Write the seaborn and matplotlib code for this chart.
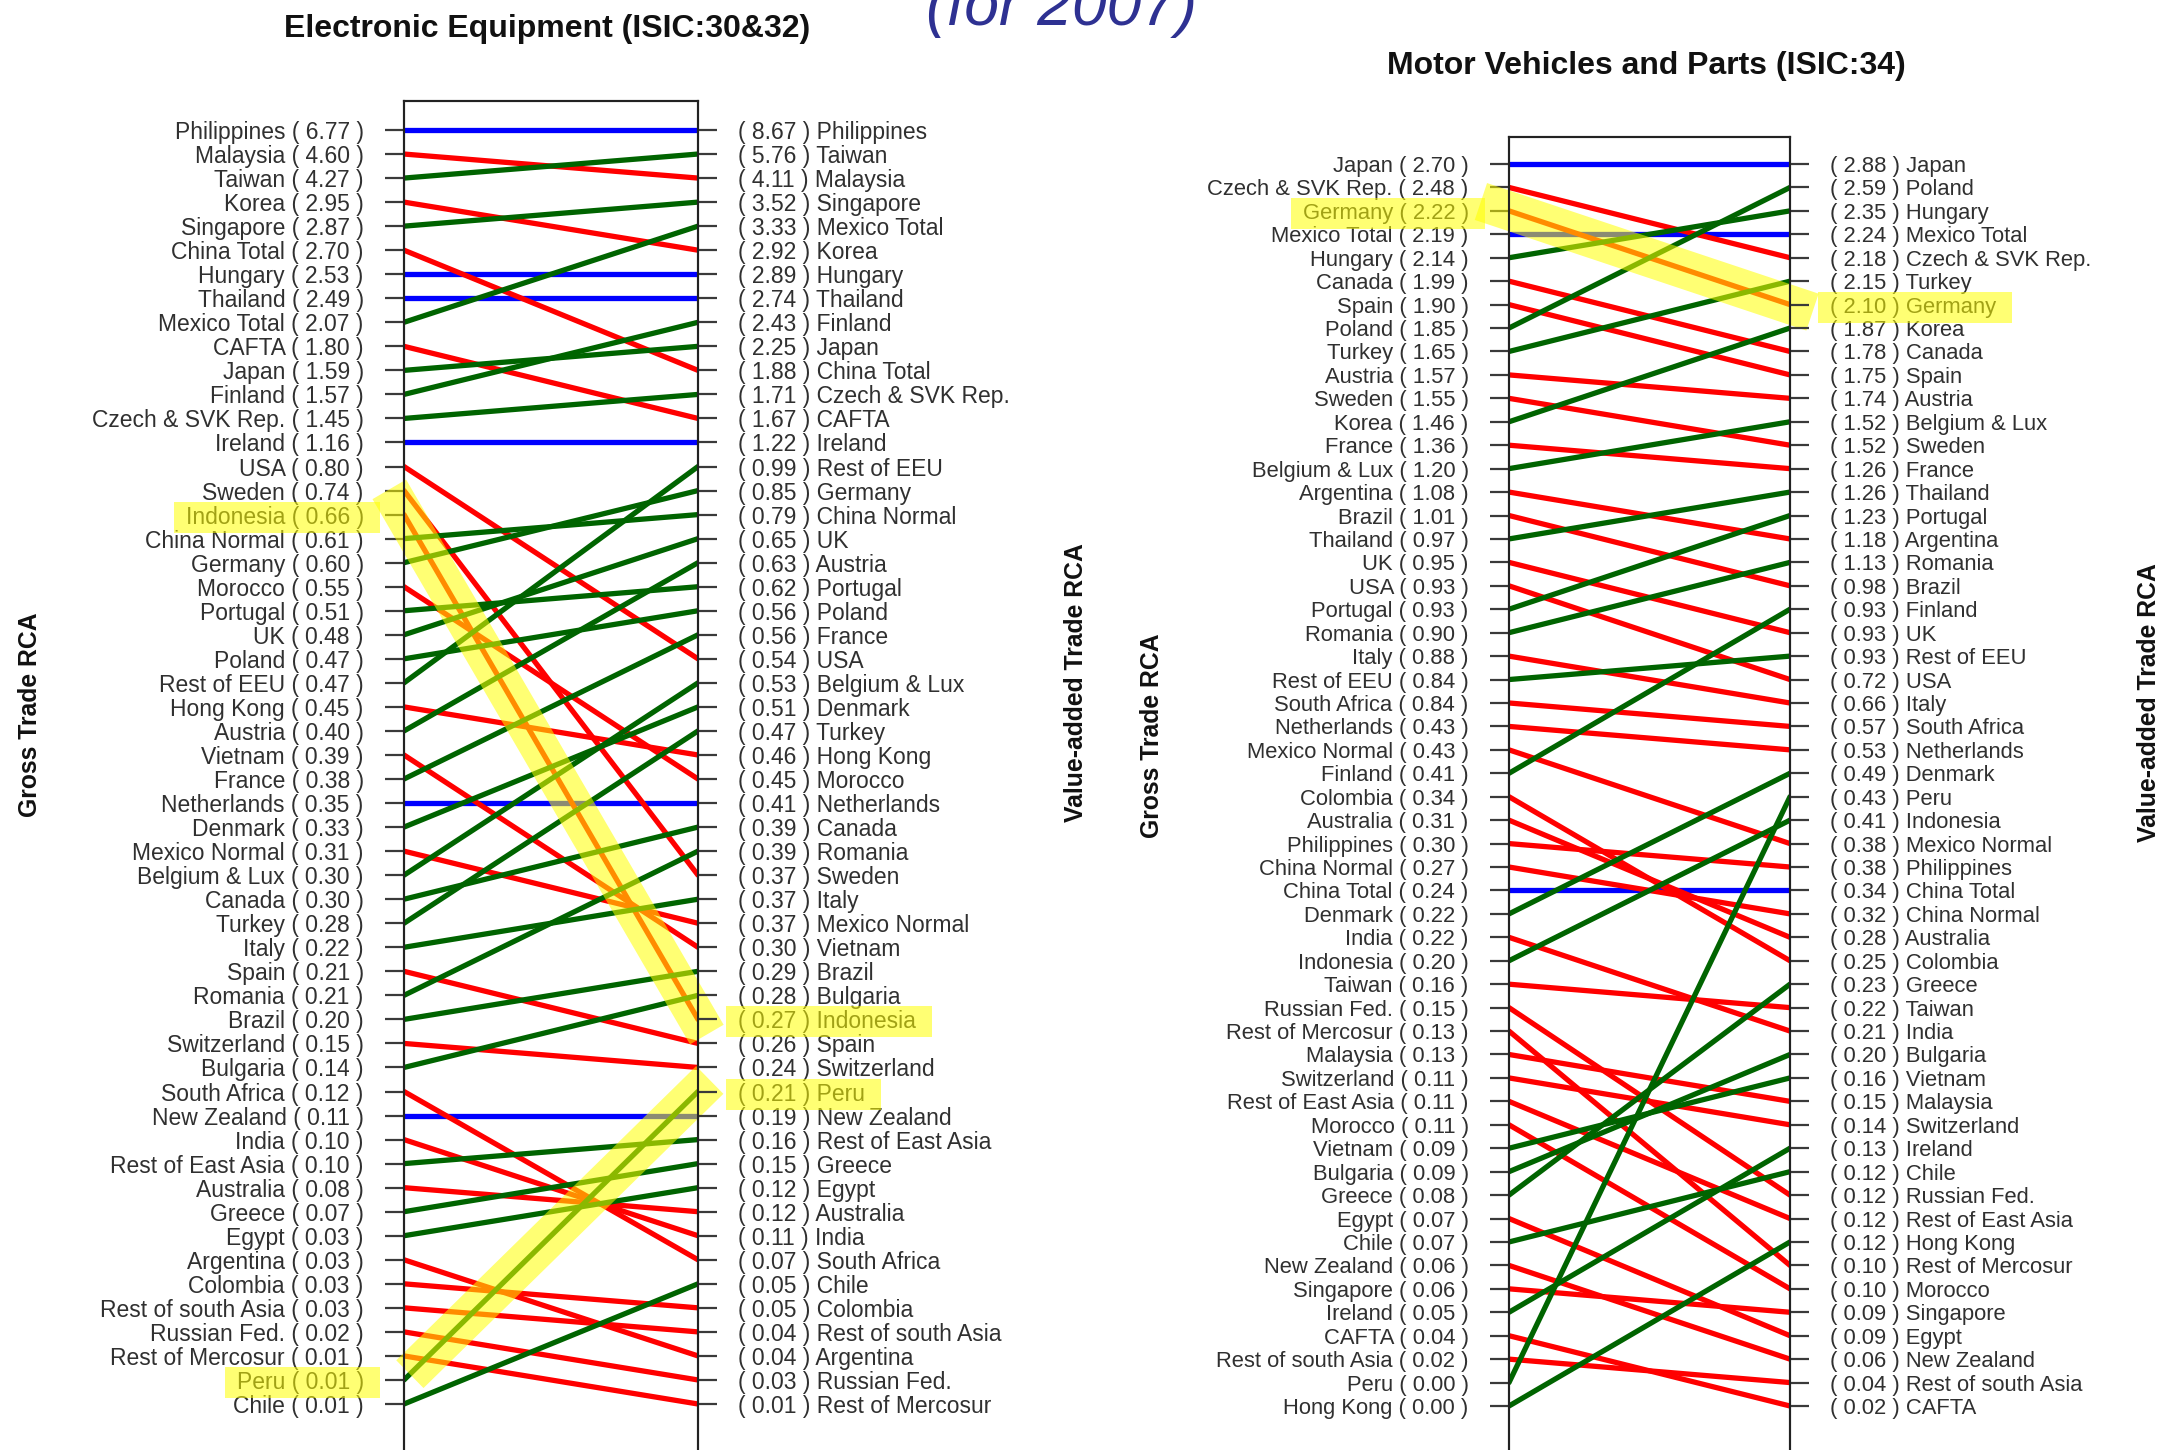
import matplotlib
matplotlib.use("Agg")
import matplotlib.pyplot as plt
import seaborn as sns
import pandas as pd
from matplotlib.patches import Rectangle

# ---------------- data ----------------
ee_gross_countries = ["Philippines", "Malaysia", "Taiwan", "Korea", "Singapore", "China Total",
    "Hungary", "Thailand", "Mexico Total", "CAFTA", "Japan", "Finland", "Czech & SVK Rep.",
    "Ireland", "USA", "Sweden", "Indonesia", "China Normal", "Germany", "Morocco", "Portugal",
    "UK", "Poland", "Rest of EEU", "Hong Kong", "Austria", "Vietnam", "France", "Netherlands",
    "Denmark", "Mexico Normal", "Belgium & Lux", "Canada", "Turkey", "Italy", "Spain", "Romania",
    "Brazil", "Switzerland", "Bulgaria", "South Africa", "New Zealand", "India",
    "Rest of East Asia", "Australia", "Greece", "Egypt", "Argentina", "Colombia",
    "Rest of south Asia", "Russian Fed.", "Rest of Mercosur", "Peru", "Chile"]
ee_gross_values = [6.77, 4.60, 4.27, 2.95, 2.87, 2.70, 2.53, 2.49, 2.07, 1.80, 1.59, 1.57, 1.45,
    1.16, 0.80, 0.74, 0.66, 0.61, 0.60, 0.55, 0.51, 0.48, 0.47, 0.47, 0.45, 0.40, 0.39, 0.38,
    0.35, 0.33, 0.31, 0.30, 0.30, 0.28, 0.22, 0.21, 0.21, 0.20, 0.15, 0.14, 0.12, 0.11, 0.10,
    0.10, 0.08, 0.07, 0.03, 0.03, 0.03, 0.03, 0.02, 0.01, 0.01, 0.01]
ee_va_countries = ["Philippines", "Taiwan", "Malaysia", "Singapore", "Mexico Total", "Korea",
    "Hungary", "Thailand", "Finland", "Japan", "China Total", "Czech & SVK Rep.", "CAFTA",
    "Ireland", "Rest of EEU", "Germany", "China Normal", "UK", "Austria", "Portugal", "Poland",
    "France", "USA", "Belgium & Lux", "Denmark", "Turkey", "Hong Kong", "Morocco", "Netherlands",
    "Canada", "Romania", "Sweden", "Italy", "Mexico Normal", "Vietnam", "Brazil", "Bulgaria",
    "Indonesia", "Spain", "Switzerland", "Peru", "New Zealand", "Rest of East Asia", "Greece",
    "Egypt", "Australia", "India", "South Africa", "Chile", "Colombia", "Rest of south Asia",
    "Argentina", "Russian Fed.", "Rest of Mercosur"]
ee_va_values = [8.67, 5.76, 4.11, 3.52, 3.33, 2.92, 2.89, 2.74, 2.43, 2.25, 1.88, 1.71, 1.67,
    1.22, 0.99, 0.85, 0.79, 0.65, 0.63, 0.62, 0.56, 0.56, 0.54, 0.53, 0.51, 0.47, 0.46, 0.45,
    0.41, 0.39, 0.39, 0.37, 0.37, 0.37, 0.30, 0.29, 0.28, 0.27, 0.26, 0.24, 0.21, 0.19, 0.16,
    0.15, 0.12, 0.12, 0.11, 0.07, 0.05, 0.05, 0.04, 0.04, 0.03, 0.01]

mv_gross_countries = ["Japan", "Czech & SVK Rep.", "Germany", "Mexico Total", "Hungary", "Canada",
    "Spain", "Poland", "Turkey", "Austria", "Sweden", "Korea", "France", "Belgium & Lux",
    "Argentina", "Brazil", "Thailand", "UK", "USA", "Portugal", "Romania", "Italy", "Rest of EEU",
    "South Africa", "Netherlands", "Mexico Normal", "Finland", "Colombia", "Australia",
    "Philippines", "China Normal", "China Total", "Denmark", "India", "Indonesia", "Taiwan",
    "Russian Fed.", "Rest of Mercosur", "Malaysia", "Switzerland", "Rest of East Asia", "Morocco",
    "Vietnam", "Bulgaria", "Greece", "Egypt", "Chile", "New Zealand", "Singapore", "Ireland",
    "CAFTA", "Rest of south Asia", "Peru", "Hong Kong"]
mv_gross_values = [2.70, 2.48, 2.22, 2.19, 2.14, 1.99, 1.90, 1.85, 1.65, 1.57, 1.55, 1.46, 1.36,
    1.20, 1.08, 1.01, 0.97, 0.95, 0.93, 0.93, 0.90, 0.88, 0.84, 0.84, 0.43, 0.43, 0.41, 0.34,
    0.31, 0.30, 0.27, 0.24, 0.22, 0.22, 0.20, 0.16, 0.15, 0.13, 0.13, 0.11, 0.11, 0.11, 0.09,
    0.09, 0.08, 0.07, 0.07, 0.06, 0.06, 0.05, 0.04, 0.02, 0.00, 0.00]
mv_va_countries = ["Japan", "Poland", "Hungary", "Mexico Total", "Czech & SVK Rep.", "Turkey",
    "Germany", "Korea", "Canada", "Spain", "Austria", "Belgium & Lux", "Sweden", "France",
    "Thailand", "Portugal", "Argentina", "Romania", "Brazil", "Finland", "UK", "Rest of EEU",
    "USA", "Italy", "South Africa", "Netherlands", "Denmark", "Peru", "Indonesia",
    "Mexico Normal", "Philippines", "China Total", "China Normal", "Australia", "Colombia",
    "Greece", "Taiwan", "India", "Bulgaria", "Vietnam", "Malaysia", "Switzerland", "Ireland",
    "Chile", "Russian Fed.", "Rest of East Asia", "Hong Kong", "Rest of Mercosur", "Morocco",
    "Singapore", "Egypt", "New Zealand", "Rest of south Asia", "CAFTA"]
mv_va_values = [2.88, 2.59, 2.35, 2.24, 2.18, 2.15, 2.10, 1.87, 1.78, 1.75, 1.74, 1.52, 1.52,
    1.26, 1.26, 1.23, 1.18, 1.13, 0.98, 0.93, 0.93, 0.93, 0.72, 0.66, 0.57, 0.53, 0.49, 0.43,
    0.41, 0.38, 0.38, 0.34, 0.32, 0.28, 0.25, 0.23, 0.22, 0.21, 0.20, 0.16, 0.15, 0.14, 0.13,
    0.12, 0.12, 0.12, 0.12, 0.10, 0.10, 0.09, 0.09, 0.06, 0.04, 0.02]

ee_highlight = ["Indonesia", "Peru"]
mv_highlight = ["Germany"]

titles = ["Electronic Equipment (ISIC:30&32)", "Motor Vehicles and Parts (ISIC:34)"]
subtitle = "(for 2007)"
gross_label = "Gross Trade RCA"
va_label = "Value-added Trade RCA"

# ---------------- style ----------------
sns.set_style("white")
plt.rcParams["font.family"] = ["Liberation Sans", "DejaVu Sans"]

W, H = 2163, 1450
fig = plt.figure(figsize=(W / 100, H / 100), dpi=100)

palette = {"up": "#006400", "down": "#FF0000", "same": "#0000FF"}
YELLOW = "#FFFF00"
HL_ALPHA = 0.55
TEXT_C = "#303030"

# extension of the yellow highlight band beyond the (left, right) axis, in axes fractions
band_ext = {"Indonesia": (0.05, 0.03), "Peru": (-0.02, 0.04), "Germany": (0.10, 0.08)}


def build(gc, vc):
    rows = []
    for i, c in enumerate(gc):
        r0 = i + 1
        r1 = vc.index(c) + 1
        ch = "up" if r1 < r0 else ("down" if r1 > r0 else "same")
        rows.append(dict(country=c, side=0, rank=r0, change=ch))
        rows.append(dict(country=c, side=1, rank=r1, change=ch))
    return pd.DataFrame(rows)


def panel(px_l, px_r, px_top, px_first, px_last, gc, gv, vc, vv, fs, highlights):
    ax = fig.add_axes([px_l / W, 0, (px_r - px_l) / W, 1 - px_top / H])
    n = len(gc)
    pitch = (px_last - px_first) / (n - 1)
    ylo = 1 - (px_first - px_top) / pitch
    yhi = n + (H - px_last) / pitch
    df = build(gc, vc)
    sns.lineplot(data=df, x="side", y="rank", units="country", estimator=None,
                 hue="change", palette=palette, linewidth=3.8, legend=False,
                 ax=ax, sort=False)
    ax.set_xlim(0, 1)
    ax.set_ylim(yhi, ylo)
    ax.set_xlabel("")
    ax.set_ylabel("")
    ax.set_xticks([])
    ranks = list(range(1, n + 1))
    ax.set_yticks(ranks)
    ax.set_yticklabels([f"{c} ( {v:.2f} )" for c, v in zip(gc, gv)])
    tick_kw = dict(direction="out", length=14, width=1.6, color="#3a3a3a",
                   pad=15, labelsize=fs, labelcolor=TEXT_C)
    ax.tick_params(axis="y", left=True, right=False, labelleft=True,
                   labelright=False, **tick_kw)
    ax2 = ax.twinx()
    ax2.set_ylim(yhi, ylo)
    ax2.set_yticks(ranks)
    ax2.set_yticklabels([f"( {v:.2f} ) {c}" for c, v in zip(vc, vv)])
    ax2.tick_params(axis="y", left=False, right=True, labelleft=False,
                    labelright=True, **tick_kw)
    for a in (ax, ax2):
        for s in ("left", "right", "top"):
            a.spines[s].set_visible(True)
            a.spines[s].set_linewidth(1.5)
            a.spines[s].set_color("#222222")
        a.spines["bottom"].set_visible(False)
    # yellow highlight bands along highlighted lines
    for c in highlights:
        r0 = gc.index(c) + 1
        r1 = vc.index(c) + 1
        e0, e1 = band_ext[c]
        xs = [-e0, 1 + e1]
        ys = [r0 + (r1 - r0) * x for x in xs]
        ax.plot(xs, ys, color=YELLOW, alpha=HL_ALPHA, lw=28,
                solid_capstyle="butt", clip_on=False, zorder=6)
    return ax, ax2


axL, axL2 = panel(404, 698, 101, 130, 1404, ee_gross_countries, ee_gross_values,
                  ee_va_countries, ee_va_values, 16.5, ee_highlight)
axR, axR2 = panel(1509, 1790, 137, 164, 1406, mv_gross_countries, mv_gross_values,
                  mv_va_countries, mv_va_values, 15.8, mv_highlight)

# titles and axis labels
fig.text(547 / W, 1 - 29 / H, titles[0], ha="center", va="center",
         fontsize=23, fontweight="bold", color="#111111")
fig.text(1646 / W, 1 - 66 / H, titles[1], ha="center", va="center",
         fontsize=23, fontweight="bold", color="#111111")
fig.text(1062 / W, 1 - 25 / H, subtitle, ha="center", va="baseline",
         fontsize=45, style="italic", color="#2E3192")

lab_kw = dict(rotation=90, ha="center", va="center", fontsize=17.8,
              fontweight="bold", color="#111111")
fig.text(30 / W, 1 - 715 / H, gross_label, **lab_kw)
fig.text(1076 / W, 1 - 683 / H, va_label, **lab_kw)
fig.text(1152 / W, 1 - 736 / H, gross_label, **lab_kw)
fig.text(2149 / W, 1 - 703 / H, va_label, **lab_kw)

# yellow boxes over highlighted labels
fig.canvas.draw()
renderer = fig.canvas.get_renderer()
for axes_pair, hl in (((axL, axL2), ee_highlight), ((axR, axR2), mv_highlight)):
    for a in axes_pair:
        for t in a.get_yticklabels():
            if not t.get_visible():
                continue
            txt = t.get_text()
            for c in hl:
                if c in txt:
                    bb = t.get_window_extent(renderer)
                    cy = (bb.y0 + bb.y1) / 2
                    fig.add_artist(Rectangle((bb.x0 - 12, cy - 15.5), bb.width + 28, 31,
                                             transform=None, facecolor=YELLOW,
                                             edgecolor="none", alpha=HL_ALPHA, zorder=20))

fig.savefig("out.png", dpi=100)
